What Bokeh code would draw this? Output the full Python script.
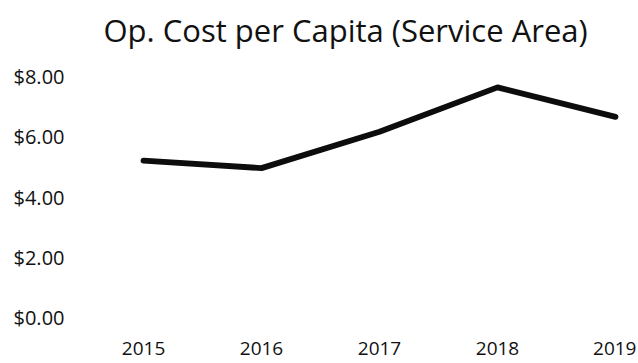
from bokeh.plotting import figure
from bokeh.models import FixedTicker, Range1d
from bokeh.embed import file_html
from bokeh.resources import INLINE

years = [2015, 2016, 2017, 2018, 2019]
cost_per_capita = [5.21, 4.96, 6.17, 7.64, 6.66]
y_ticks = [0, 2, 4, 6, 8]
y_tick_labels = ["$0.00", "$2.00", "$4.00", "$6.00", "$8.00"]
title_text = "Op. Cost per Capita (Service Area)"

FONT = "Open Sans"

p = figure(width=636, height=360, output_backend="svg", toolbar_location=None,
           x_range=Range1d(2014.398, 2019.178), y_range=Range1d(-0.40, 8.60),
           title=title_text, min_border_left=72, min_border_right=0,
           min_border_top=58, min_border_bottom=31)

p.line(years, cost_per_capita, line_width=5.8, line_color="#0d0d0d",
       line_join="round", line_cap="round")

p.title.text_font = FONT
p.title.text_font_size = "31px"
p.title.text_font_style = "normal"
p.title.text_color = "#111111"
p.title.align = "left"
p.title.offset = 31
p.title.vertical_align = "top"
p.title.standoff = 11

p.grid.visible = False
p.outline_line_color = None

for ax in (p.xaxis, p.yaxis):
    ax.axis_line_color = None
    ax.major_tick_line_color = None
    ax.minor_tick_line_color = None
    ax.major_label_text_font = FONT
    ax.major_label_text_color = "#111111"

p.xaxis.major_label_text_font_size = "19px"
p.yaxis.major_label_text_font_size = "20px"
p.xaxis.ticker = FixedTicker(ticks=years)
p.xaxis.major_label_overrides = {y: str(y) for y in years}
p.xaxis.major_label_standoff = 6
p.yaxis.ticker = FixedTicker(ticks=y_ticks)
p.yaxis.major_label_overrides = dict(zip(y_ticks, y_tick_labels))
p.yaxis.major_tick_out = 0
p.yaxis.major_tick_in = 0
p.yaxis.major_label_standoff = 8

open("out.html", "w").write(file_html(p, INLINE))
